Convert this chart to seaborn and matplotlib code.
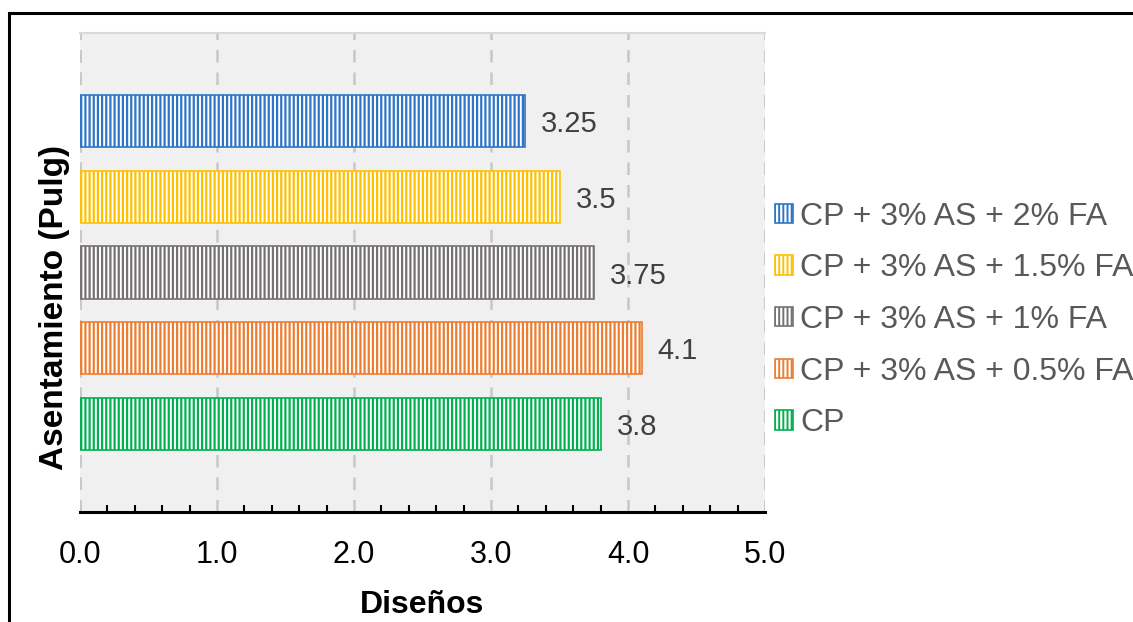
import matplotlib
matplotlib.use("Agg")
import matplotlib.pyplot as plt
import seaborn as sns
import pandas as pd
from matplotlib.patches import Rectangle, Patch
from matplotlib.ticker import MultipleLocator
from matplotlib.legend_handler import HandlerTuple

categories = ["CP + 3% AS + 2% FA", "CP + 3% AS + 1.5% FA", "CP + 3% AS + 1% FA",
              "CP + 3% AS + 0.5% FA", "CP"]
values = [3.25, 3.5, 3.75, 4.1, 3.8]
value_labels = ["3.25", "3.5", "3.75", "4.1", "3.8"]
colors = ["#2E75C8", "#FFC000", "#767171", "#ED7D31", "#00B050"]
xticks = [0.0, 1.0, 2.0, 3.0, 4.0, 5.0]
xtick_labels = ["0.0", "1.0", "2.0", "3.0", "4.0", "5.0"]

sns.set_theme(style="white")
plt.rcParams["font.family"] = ["Liberation Sans", "DejaVu Sans"]
plt.rcParams["hatch.linewidth"] = 1.6

df = pd.DataFrame({"cat": categories, "val": values})

fig = plt.figure(figsize=(11.33, 6.22), dpi=100)
ax = fig.add_axes([80/1133, 110/622, 685/1133, 479/622])
ax.set_facecolor("#F0F0F0")

sns.barplot(data=df, y="cat", x="val", hue="cat", order=categories, hue_order=categories,
            palette=colors, orient="h", width=0.69, legend=False, ax=ax, saturation=1)

for p, c in zip(ax.patches, colors):
    p.set_facecolor("white")
    p.set_edgecolor(c)
    p.set_hatch("||||")
    p.set_linewidth(1.2)

for i, (v, lab) in enumerate(zip(values, value_labels)):
    ax.annotate(lab, xy=(v, i), xytext=(11.5, 0), textcoords="offset points",
                va="center_baseline", ha="left", fontsize=21, color="#404040")

ax.set_xlim(0, 5)
ax.set_ylim(4 + 1.17, -1.17)
ax.set_xticks(xticks)
ax.set_xticklabels(xtick_labels, fontsize=22, color="black")
ax.xaxis.set_minor_locator(MultipleLocator(0.2))
ax.tick_params(axis="x", which="major", direction="in", length=9, width=1.5, color="black", pad=20)
ax.tick_params(axis="x", which="minor", direction="in", length=5, width=1.5, color="black", bottom=True)
ax.set_yticks([])
ax.grid(axis="x", color="#C8C8C8", linestyle=(0, (5, 4)), linewidth=1.8)
ax.set_axisbelow(True)
for x in [0, 5]:
    ax.axvline(x, color="#C8C8C8", linestyle=(0, (5, 4)), linewidth=1.8, zorder=0.5)

for s in ["left", "right"]:
    ax.spines[s].set_visible(False)
ax.spines["top"].set_color("#D9D9D9")
ax.spines["top"].set_linewidth(1.5)
ax.spines["bottom"].set_color("black")
ax.spines["bottom"].set_linewidth(2.2)

ax.set_xlabel("Diseños", fontsize=23, fontweight="bold", color="black")
ax.xaxis.set_label_coords(0.5, -(605 - 512) / 479)
ax.xaxis.label.set_va("center")
ax.set_ylabel("Asentamiento (Pulg)", fontsize=24, fontweight="bold", color="black")
ax.yaxis.set_label_coords((55 - 80) / 685, (512 - 308) / 479)
ax.yaxis.label.set_va("center")

handles = [(Patch(facecolor=c, edgecolor="white", hatch="||||", linewidth=0),
            Patch(facecolor="none", edgecolor=c, linewidth=1.2)) for c in colors]
leg = ax.legend(handles, categories, loc="center left",
                bbox_to_anchor=((775 - 765) / 685 + 1, (512 - 320) / 479),
                frameon=False, fontsize=23, labelcolor="#595959", handlelength=0.56,
                handleheight=0.56, handletextpad=0.22, labelspacing=0.68, borderaxespad=0,
                borderpad=0, handler_map={tuple: HandlerTuple(ndivide=1, pad=0)})

fig.patches.append(Rectangle((9/1133, -0.1), 1.2, (622-13)/622 + 0.1, transform=fig.transFigure,
                             fill=False, edgecolor="black", linewidth=2.2, zorder=10))

fig.savefig("out.png", dpi=100)
